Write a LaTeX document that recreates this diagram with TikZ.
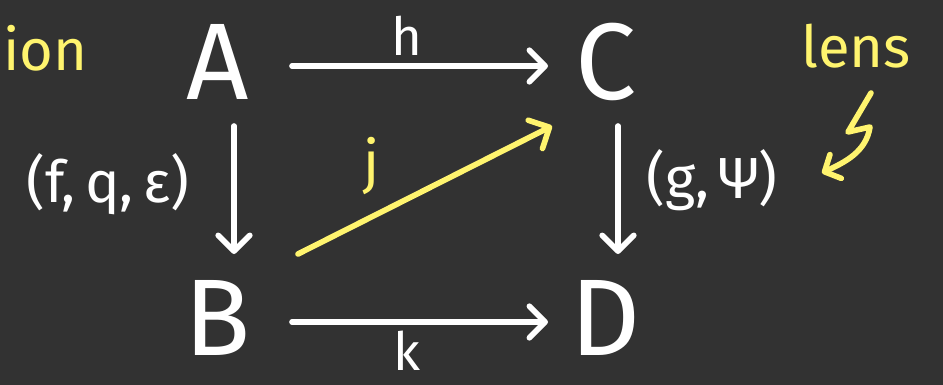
\documentclass[tikz,border=0pt]{standalone}
\usepackage{fontspec}
\setmainfont{Fira Sans}
\usetikzlibrary{arrows.meta}
\definecolor{bg}{HTML}{323232}
\definecolor{hy}{HTML}{FFF46E}
\begin{document}
\begin{tikzpicture}[x=0.02cm,y=-0.02cm,
  obj/.style={text=white,font=\fontsize{62}{62}\selectfont,inner sep=0pt},
  lbl/.style={text=white,font=\fontsize{33}{33}\selectfont,inner sep=0pt},
  note/.style={text=hy,font=\fontsize{33}{33}\selectfont,inner sep=0pt},
  arr/.style={white,line width=3.2pt,line cap=round,-{Straight Barb[length=9pt,width=18pt,line width=3.2pt,round]}},
  yarr/.style={arr,hy}]
\fill[bg] (0,0) rectangle (943,385);
\useasboundingbox (0,0) rectangle (943,385);
\node[obj] (A) at (218,62) {A};
\node[obj] (C) at (606,62) {C};
\node[obj] (B) at (218,318) {B};
\node[obj] (D) at (606,318) {D};
\coordinate (a1) at (292,66); \coordinate (c1) at (548,66);
\coordinate (b1) at (292,322); \coordinate (d1) at (548,322);
\coordinate (a2) at (234,126); \coordinate (b2) at (234,254);
\coordinate (c2) at (618,126); \coordinate (d2) at (618,254);
\coordinate (b3) at (298,254); \coordinate (c3) at (552,126);
\draw[arr] (a1) -- (c1);
\draw[arr] (b1) -- (d1);
\draw[arr] (a2) -- (b2);
\draw[arr] (c2) -- (d2);
\draw[yarr] (b3) -- (c3);
\node[lbl,font=\fontsize{30}{30}\selectfont] (h) at (407,36) {h};
\node[lbl,font=\fontsize{30}{30}\selectfont] (k) at (407,351) {k};
\node[lbl] (fqe) at (108,184) {(f,\,q,\,ε)};
\node[lbl] (gpsi) at (712,180) {(g,\,Ψ)};
\node[note] (j) at (372,166) {j};
\node[note,anchor=west] (ion) at (3,48) {ion};
\node[note] (lens) at (856,46) {lens};
\coordinate (s0) at (871,93);
\coordinate (s1) at (848,132);
\coordinate (s2) at (870,127);
\coordinate (s3) at (822,173);
\draw[hy,line width=3.2pt,line cap=round,line join=round,-{Straight Barb[length=7pt,width=15pt,line width=3.2pt,round]}]
  (s0) -- (s1) -- (s2) .. controls (866,152) and (845,162) .. (s3);
\end{tikzpicture}
\end{document}
